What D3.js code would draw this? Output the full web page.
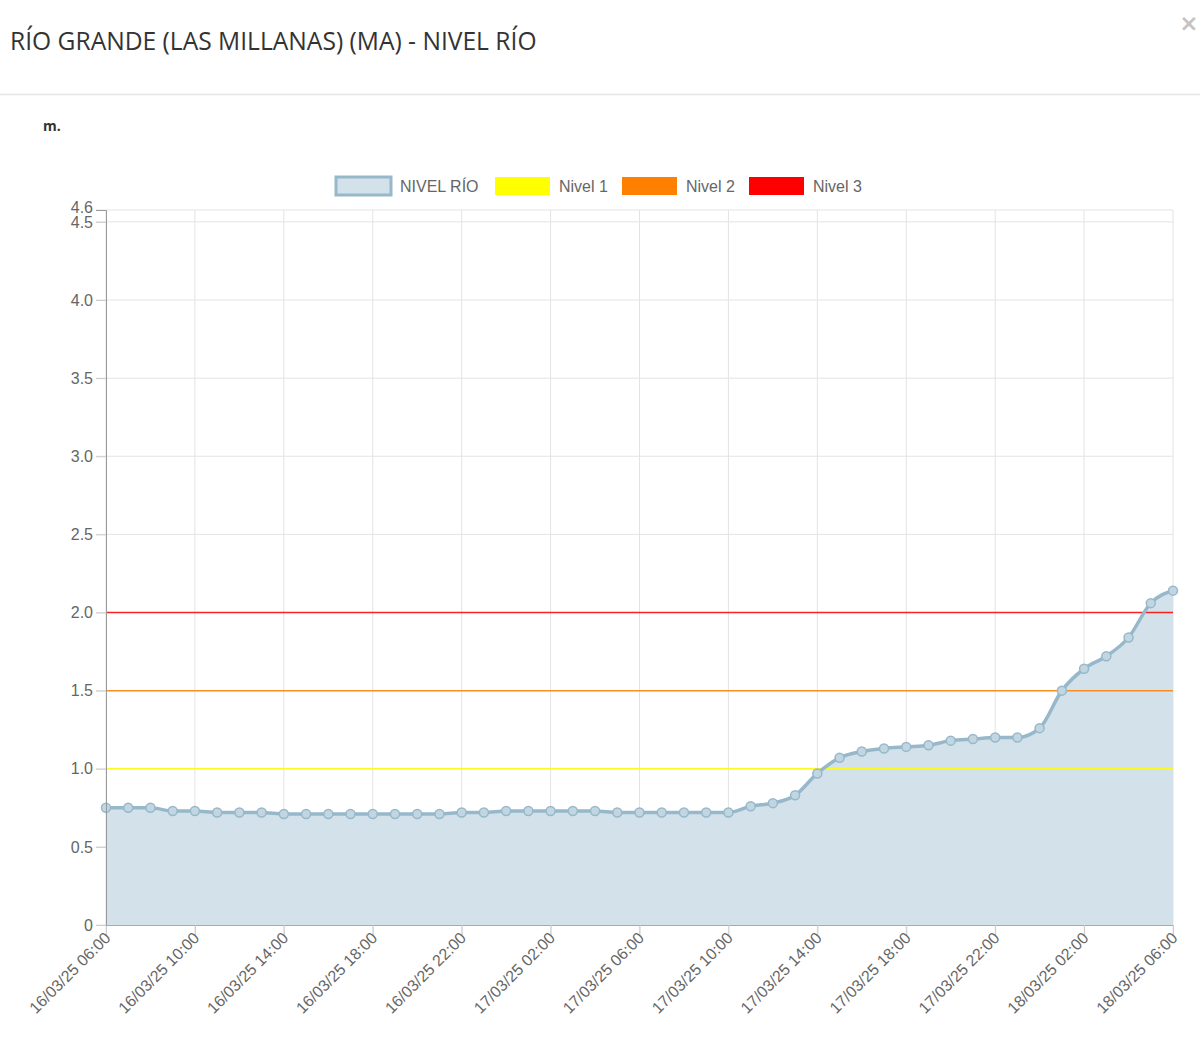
<!DOCTYPE html>
<html>
<head>
<meta charset="utf-8">
<script src="https://cdn.jsdelivr.net/npm/d3@7"></script>
<style>
  body { margin: 0; background: #fff; }
  svg { display: block; }
</style>
</head>
<body>
<svg id="drawing_region"></svg>
<script>
// hourly readings, 16/03/25 06:00 -> 18/03/25 06:00
const startTime = new Date(2025, 2, 16, 6, 0);
const nivelRio = [
  0.75, 0.75, 0.75, 0.73, 0.73, 0.72, 0.72, 0.72, 0.71, 0.71,
  0.71, 0.71, 0.71, 0.71, 0.71, 0.71, 0.72, 0.72, 0.73, 0.73,
  0.73, 0.73, 0.73, 0.72, 0.72, 0.72, 0.72, 0.72, 0.72, 0.76,
  0.78, 0.83, 0.97, 1.07, 1.11, 1.13, 1.14, 1.15, 1.18, 1.19,
  1.20, 1.20, 1.26, 1.50, 1.64, 1.72, 1.84, 2.06, 2.14
];
const thresholdNames = ['Nivel 1', 'Nivel 2', 'Nivel 3'];
const thresholdValues = [1.0, 1.5, 2.0];
const thresholdColors = ['#ffff00', '#ff8000', '#ff0000'];
const yTicks = [0, 0.5, 1.0, 1.5, 2.0, 2.5, 3.0, 3.5, 4.0, 4.5];
const yMax = 4.576;
const yMaxLabel = '4.6';
const xTickHours = 4;

const config = {
  width: 1200,
  height: 1045,
  margin: {top: 210, right: 27, bottom: 120, left: 106}
};

const data = nivelRio.map((v, i) => ({ t: d3.timeHour.offset(startTime, i), v: v }));

const svg = d3.select('#drawing_region')
  .attr('width', config.width)
  .attr('height', config.height);

// header
svg.append('text')
  .attr('x', 10).attr('y', 50)
  .style('font-family', '"Open Sans", sans-serif')
  .style('font-size', '24.6px')
  .style('fill', '#333')
  .text('RÍO GRANDE (LAS MILLANAS) (MA) - NIVEL RÍO');

svg.append('text')
  .attr('x', 1189).attr('y', 31)
  .attr('text-anchor', 'middle')
  .style('font-family', '"DejaVu Sans", sans-serif')
  .style('font-size', '23px')
  .style('font-weight', 'bold')
  .style('fill', '#c4c4c4')
  .text('×');

svg.append('line')
  .attr('x1', 0).attr('x2', config.width)
  .attr('y1', 94.5).attr('y2', 94.5)
  .attr('stroke', '#e5e5e5').attr('stroke-width', 1.5);

svg.append('text')
  .attr('x', 43).attr('y', 131)
  .style('font-family', '"Open Sans", sans-serif')
  .style('font-size', '14px')
  .style('font-weight', 'bold')
  .style('fill', '#333')
  .text('m.');

// chart
const inner_width = config.width - config.margin.left - config.margin.right;
const inner_height = config.height - config.margin.top - config.margin.bottom;

const chart = svg.append('g')
  .attr('transform', `translate(${config.margin.left}, ${config.margin.top})`);

const xscale = d3.scaleTime()
  .domain([data[0].t, data[data.length - 1].t])
  .range([0, inner_width]);

const yscale = d3.scaleLinear()
  .domain([0, yMax])
  .range([inner_height, 0]);

const fmt = d3.timeFormat('%d/%m/%y %H:%M');
const xTickValues = data.filter((d, i) => i % xTickHours === 0).map(d => d.t);

// grid
chart.append('g')
  .selectAll('line')
  .data(xTickValues)
  .join('line')
  .attr('x1', d => xscale(d)).attr('x2', d => xscale(d))
  .attr('y1', 0).attr('y2', inner_height + 10)
  .attr('stroke', '#e3e3e3');

const yGridValues = yTicks.concat([yMax]);
chart.append('g')
  .selectAll('line')
  .data(yGridValues)
  .join('line')
  .attr('x1', -10).attr('x2', inner_width)
  .attr('y1', d => yscale(d)).attr('y2', d => yscale(d))
  .attr('stroke', '#e3e3e3');

// area + line
const area = d3.area()
  .x(d => xscale(d.t))
  .y0(yscale(0))
  .y1(d => yscale(d.v))
  .curve(d3.curveMonotoneX);

const line = d3.line()
  .x(d => xscale(d.t))
  .y(d => yscale(d.v))
  .curve(d3.curveMonotoneX);

chart.append('path')
  .datum(data)
  .attr('d', area)
  .attr('fill', '#d3e2ea');

// threshold lines
chart.append('g')
  .selectAll('line')
  .data(thresholdValues)
  .join('line')
  .attr('x1', 0).attr('x2', inner_width)
  .attr('y1', d => yscale(d)).attr('y2', d => yscale(d))
  .attr('stroke', (d, i) => thresholdColors[i])
  .attr('stroke-width', 1.5)
  .attr('opacity', 0.85);

chart.append('path')
  .datum(data)
  .attr('d', line)
  .attr('fill', 'none')
  .attr('stroke', '#97b8ca')
  .attr('stroke-width', 3.5);

chart.append('g')
  .selectAll('circle')
  .data(data)
  .join('circle')
  .attr('cx', d => xscale(d.t))
  .attr('cy', d => yscale(d.v))
  .attr('r', 4.5)
  .attr('fill', '#c2d6e1')
  .attr('stroke', '#97b8ca')
  .attr('stroke-width', 1.5);

// axes
const xaxis = d3.axisBottom(xscale)
  .tickValues(xTickValues)
  .tickFormat(fmt)
  .tickSize(10);

const yaxis = d3.axisLeft(yscale)
  .tickValues(yTicks)
  .tickFormat(d => d === 0 ? '0' : d3.format('.1f')(d))
  .tickSize(10);

const xaxis_group = chart.append('g')
  .attr('transform', `translate(0, ${inner_height})`)
  .call(xaxis);

xaxis_group.select('.domain').attr('stroke', '#aaa');
xaxis_group.selectAll('.tick line').attr('stroke', '#ccc');
xaxis_group.selectAll('.tick text')
  .attr('text-anchor', 'end')
  .attr('x', 0).attr('y', 0).attr('dy', 0)
  .attr('transform', 'translate(5, 14) rotate(-45)')
  .style('font-family', '"Liberation Sans", Arial, sans-serif')
  .style('font-size', '16px')
  .style('fill', '#666');

const yaxis_group = chart.append('g')
  .call(yaxis);

yaxis_group.select('.domain').attr('stroke', '#999');
yaxis_group.selectAll('.tick line').attr('stroke', '#ccc');
yaxis_group.selectAll('.tick text')
  .attr('x', -13)
  .style('font-family', '"Liberation Sans", Arial, sans-serif')
  .style('font-size', '16px')
  .style('fill', '#666');

yaxis_group.append('text')
  .attr('x', -13)
  .attr('y', yscale(yMax) + 3)
  .attr('text-anchor', 'end')
  .style('font-family', '"Liberation Sans", Arial, sans-serif')
  .style('font-size', '16px')
  .style('fill', '#666')
  .text(yMaxLabel);

// legend
const legendItems = [{ name: 'NIVEL RÍO', fill: '#d3e2ea', stroke: '#97b8ca' }]
  .concat(thresholdNames.map((n, i) => ({ name: n, fill: thresholdColors[i], stroke: null })));
const legendX = [336, 495, 622, 749];

const legend = svg.append('g')
  .attr('transform', 'translate(0, 177)');

const item = legend.selectAll('g')
  .data(legendItems)
  .join('g')
  .attr('transform', (d, i) => `translate(${legendX[i]}, 0)`);

item.append('rect')
  .attr('width', 55).attr('height', 18)
  .attr('fill', d => d.fill)
  .attr('stroke', d => d.stroke || 'none')
  .attr('stroke-width', 3);

item.append('text')
  .attr('x', 64).attr('y', 15)
  .style('font-family', '"Liberation Sans", Arial, sans-serif')
  .style('font-size', '16px')
  .style('fill', '#666')
  .text(d => d.name);
</script>
</body>
</html>
